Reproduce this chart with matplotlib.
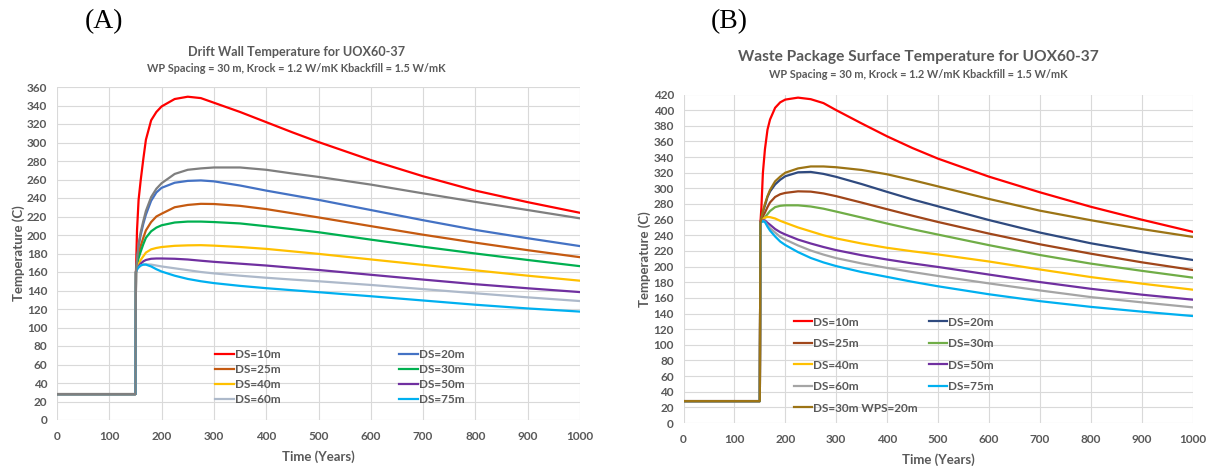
import matplotlib
matplotlib.use("Agg")
import matplotlib.pyplot as plt
from matplotlib.ticker import MultipleLocator

# Shared time axis (years)
years = [0, 150, 151, 153, 156, 160, 165, 170, 180, 190, 200, 225, 250, 275,
         300, 350, 400, 450, 500, 600, 700, 800, 900, 1000]

# (A) Drift wall temperature, deg C
wall_ds10 = [28, 28, 160, 205, 238, 259, 282, 303, 324, 333, 339, 347, 349.5, 348,
             343, 333, 322, 311, 300.5, 281, 263.5, 248, 235.5, 224]
wall_ds20 = [28, 28, 160, 172, 188, 200, 212, 222, 237, 246, 251, 256.5, 258.5, 259,
             258, 253.5, 248, 243, 238, 227, 216, 205.5, 196.5, 188]
wall_ds25 = [28, 28, 160, 170, 180, 188, 197, 205, 214, 220, 223, 230, 232.5, 233.7,
             233.5, 231.5, 228, 223.5, 219, 209.6, 200.3, 191.7, 183.6, 176]
wall_ds30 = [28, 28, 160, 168, 175, 182, 190, 197, 204, 208, 210.5, 213.5, 214.5, 214.5,
             214, 212.5, 209.5, 206.3, 203, 195, 187.3, 180, 173, 166.3]
wall_ds40 = [28, 28, 160, 164, 168, 173, 177, 181, 184.5, 186, 187, 188.3, 188.8, 189,
             188.5, 187, 185, 182.3, 179.6, 173.6, 167.7, 161.8, 156, 150.6]
wall_ds50 = [28, 28, 160, 163, 166, 169, 171.5, 173, 174.3, 174.6, 174.6, 174.3, 173.5, 172.2,
             171, 169, 167, 164.6, 162.2, 157, 151.8, 146.8, 142.4, 138.3]
wall_ds60 = [28, 28, 160, 163, 165, 167, 168, 168.3, 168, 167, 166, 164, 162, 160,
             158.5, 156, 153.8, 151.8, 150, 146, 141.5, 137, 132.6, 128.6]
wall_ds75 = [28, 28, 160, 163, 165, 167, 168, 168, 166, 163, 160.5, 156, 152.5, 150,
             148, 145, 142.5, 140.3, 138.2, 133.8, 129.2, 124.6, 120.6, 117.2]
wall_wps20 = [28, 28, 160, 173, 190, 203, 215, 226, 241, 250, 256, 266, 270.5, 272,
              273, 273, 270.5, 266.5, 262.8, 254.5, 245, 235.8, 227, 218]

# (B) Waste package surface temperature, deg C
wp_ds10 = [28, 28, 255, 275, 320, 350, 375, 388, 403, 410, 413.5, 416, 414, 409,
           400, 383, 366.5, 351.5, 338, 315, 295, 276.5, 260, 244.5]
wp_ds20 = [28, 28, 255, 262, 270, 278, 289, 296, 305, 311, 315.5, 320.5, 321, 318.5,
           314.7, 305.5, 295.5, 285.8, 277, 259.5, 243.5, 229.8, 218.5, 208.5]
wp_ds25 = [28, 28, 255, 259, 264, 269, 276, 282, 289, 292.5, 294.2, 296.2, 295.8, 293.5,
           290, 281.8, 273.3, 265, 257, 242.2, 228.5, 216.5, 205.5, 195.7]
wp_ds30 = [28, 28, 255, 257, 260, 263, 267, 271, 276, 277.7, 278.3, 278.3, 276.8, 274,
           270.3, 262.7, 255, 247.7, 240.9, 227.4, 214.8, 203.8, 194.6, 185.9]
wp_ds40 = [28, 28, 255, 258, 260.5, 262.5, 263.5, 263.2, 261.5, 258.5, 256, 250, 245, 240,
           236, 229.5, 224, 219.5, 215.5, 206.5, 196.3, 186.6, 178.2, 170.5]
wp_ds50 = [28, 28, 255, 257.5, 259, 259, 256, 253.5, 248, 244, 241, 234.5, 229.5, 225,
           221, 214.5, 209, 204, 199.5, 189.8, 180.2, 171.6, 164.1, 157.7]
wp_ds60 = [28, 28, 255, 257, 258, 257.5, 253, 249, 243.5, 238, 234.5, 227, 220.5, 215.3,
           210.8, 204, 198.3, 193, 188, 178.5, 169.5, 161, 154.3, 147.9]
wp_ds75 = [28, 28, 255, 257, 258, 257, 251, 246, 238.5, 232, 227.5, 218.5, 211, 205.3,
           200.6, 193, 186.8, 180.5, 174.8, 164.6, 155.8, 148.5, 142.4, 136.8]
wp_wps20 = [28, 28, 255, 262, 271, 280, 290, 298, 309, 315, 320, 325.5, 328, 328,
            327, 323.5, 318, 310.5, 302.5, 286.5, 271.5, 259.3, 248, 238]

TEXT = "#595959"
GRID = "#D9D9D9"
FONT = "Lato"
plt.rcParams["font.family"] = [FONT, "DejaVu Sans"]

fig = plt.figure(figsize=(12.08, 4.66), dpi=100)
fig.patch.set_facecolor("white")


def style_axes(ax, ymax):
    ax.set_xlim(0, 1000)
    ax.set_ylim(0, ymax)
    ax.xaxis.set_major_locator(MultipleLocator(100))
    ax.yaxis.set_major_locator(MultipleLocator(20))
    ax.grid(True, color=GRID, linewidth=0.8)
    ax.set_axisbelow(True)
    for s in ax.spines.values():
        s.set_visible(False)
    ax.tick_params(length=0, labelsize=8.5, labelcolor=TEXT)
    ax.tick_params(axis="x", pad=8)
    ax.tick_params(axis="y", pad=7)
    for lab in ax.get_xticklabels() + ax.get_yticklabels():
        lab.set_fontweight("bold")
    ax.set_xlabel("Time (Years)", fontsize=9.5, color=TEXT, fontweight="bold", labelpad=6)
    ax.set_ylabel("Temperature (C)", fontsize=9.5, color=TEXT, fontweight="bold", labelpad=1.5)


legend_font = {"family": FONT, "weight": "bold", "size": 8.5}

# ---- Panel A ----
axA = fig.add_axes([57 / 1208, 46 / 466, 523 / 1208, 333 / 466])
style_axes(axA, 360)
lw = 1.6
lA = {}
lA["10"], = axA.plot(years, wall_ds10, color="#FF0000", lw=lw, label="DS=10m")
lA["20"], = axA.plot(years, wall_ds20, color="#4472C4", lw=lw, label="DS=20m")
lA["25"], = axA.plot(years, wall_ds25, color="#C55A11", lw=lw, label="DS=25m")
lA["30"], = axA.plot(years, wall_ds30, color="#00B050", lw=lw, label="DS=30m")
lA["40"], = axA.plot(years, wall_ds40, color="#FFC000", lw=lw, label="DS=40m")
lA["50"], = axA.plot(years, wall_ds50, color="#7030A0", lw=lw, label="DS=50m")
lA["60"], = axA.plot(years, wall_ds60, color="#ADB9CA", lw=lw, label="DS=60m")
lA["75"], = axA.plot(years, wall_ds75, color="#00B0F0", lw=lw, label="DS=75m")
axA.plot(years, wall_wps20, color="#7F7F7F", lw=lw)
orderA = ["10", "25", "40", "60", "20", "30", "50", "75"]
axA.legend([lA[k] for k in orderA], [lA[k].get_label() for k in orderA],
           ncol=2, loc="upper left", bbox_to_anchor=(0.302, 0.212), frameon=False,
           prop=legend_font, labelcolor=TEXT, handlelength=1.6, handletextpad=0.12,
           columnspacing=10.0, labelspacing=0.32, borderpad=0, borderaxespad=0)

fig.text(296 / 1208, 1 - 52 / 466, "Drift Wall Temperature for UOX60-37",
         ha="center", va="center", fontsize=9.1, color=TEXT, fontweight="bold")
fig.text(296 / 1208, 1 - 69 / 466, "WP Spacing = 30 m, Krock = 1.2 W/mK Kbackfill = 1.5 W/mK",
         ha="center", va="center", fontsize=7.8, color=TEXT, fontweight="bold")
fig.text(104 / 1208, 1 - 22 / 466, "(A)", ha="center", va="center", fontsize=20,
         family="Liberation Serif", color="black")

# ---- Panel B ----
axB = fig.add_axes([683.5 / 1208, 43 / 466, 509 / 1208, 328.5 / 466])
style_axes(axB, 420)
lB = {}
lB["10"], = axB.plot(years, wp_ds10, color="#FF0000", lw=lw, label="DS=10m")
lB["20"], = axB.plot(years, wp_ds20, color="#2F4A7F", lw=lw, label="DS=20m")
lB["25"], = axB.plot(years, wp_ds25, color="#A0461A", lw=lw, label="DS=25m")
lB["30"], = axB.plot(years, wp_ds30, color="#70AD47", lw=lw, label="DS=30m")
lB["40"], = axB.plot(years, wp_ds40, color="#FFC000", lw=lw, label="DS=40m")
lB["50"], = axB.plot(years, wp_ds50, color="#7030A0", lw=lw, label="DS=50m")
lB["60"], = axB.plot(years, wp_ds60, color="#A5A5A5", lw=lw, label="DS=60m")
lB["75"], = axB.plot(years, wp_ds75, color="#00B0F0", lw=lw, label="DS=75m")
lB["w"], = axB.plot(years, wp_wps20, color="#9C7415", lw=lw, label="DS=30m WPS=20m")
orderB = ["10", "25", "40", "60", "w", "20", "30", "50", "75"]
axB.legend([lB[k] for k in orderB], [lB[k].get_label() for k in orderB],
           ncol=2, loc="upper left", bbox_to_anchor=(0.217, 0.324), frameon=False,
           prop=legend_font, labelcolor=TEXT, handlelength=1.5, handletextpad=0.1,
           columnspacing=1.0, labelspacing=0.89, borderpad=0, borderaxespad=0)

fig.text(918 / 1208, 1 - 57 / 466, "Waste Package Surface Temperature for UOX60-37",
         ha="center", va="center", fontsize=11.2, color=TEXT, fontweight="bold")
fig.text(918 / 1208, 1 - 75 / 466, "WP Spacing = 30 m, Krock = 1.2 W/mK Kbackfill = 1.5 W/mK",
         ha="center", va="center", fontsize=7.8, color=TEXT, fontweight="bold")
fig.text(729 / 1208, 1 - 22 / 466, "(B)", ha="center", va="center", fontsize=20,
         family="Liberation Serif", color="black")

fig.savefig("out.png", dpi=100, facecolor="white")
